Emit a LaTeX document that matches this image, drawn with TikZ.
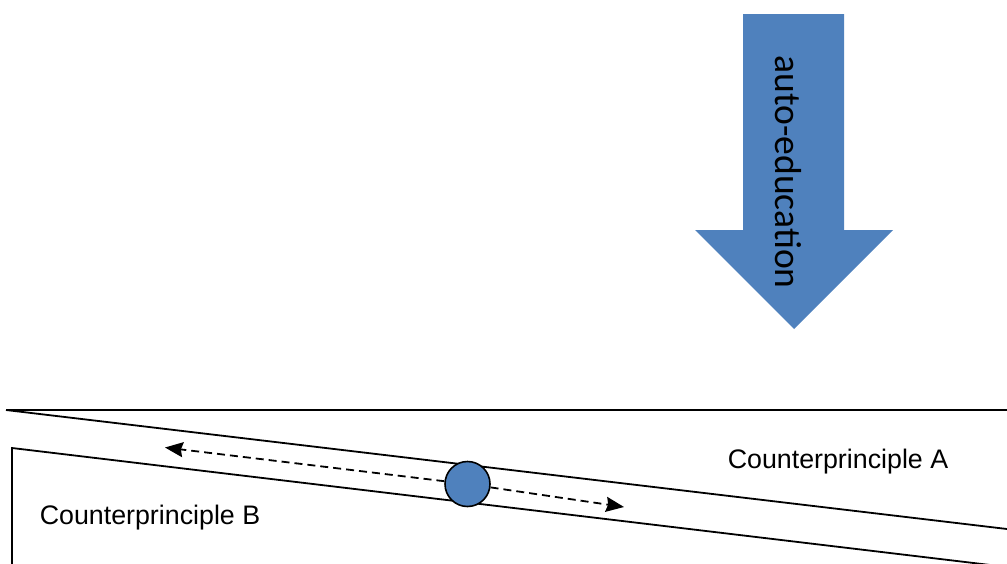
\documentclass[tikz,border=0pt]{standalone}
\usepackage{fontspec}
\setmainfont{Liberation Sans}
\newfontfamily\calibfont{Carlito}
\usetikzlibrary{arrows.meta}
\definecolor{officeblue}{HTML}{4F81BD}
\begin{document}
\begin{tikzpicture}[x=1pt,y=-1pt,
  plane/.style={line width=1.8pt,black},
  motion/.style={line width=1.8pt,dash pattern=on 8pt off 5pt,-{Stealth[length=18pt,width=15pt,inset=2pt]}},
  label/.style={font=\fontsize{26.8}{32}\selectfont,inner sep=0pt}]
\useasboundingbox (0,0) rectangle (1007,563);
\clip (0,0) rectangle (1007,563);
% big downward arrow
\fill[officeblue] (743,14) -- (844,14) -- (844,230) -- (893,230) -- (794,329) -- (695,230) -- (743,230) -- cycle;
\node[rotate=-90,inner sep=0pt,font=\calibfont\fontsize{37.6}{44}\selectfont] (autoedu) at (788,172) {auto-education};
% planes
\coordinate (tl) at (6,410);
\coordinate (tr) at (1007,410);
\coordinate (sr) at (1007,529);
\coordinate (bl) at (12,448);
\coordinate (br) at (1007,567);
\coordinate (bb) at (12,575);
\draw[plane] (tl) -- (tr);
\draw[plane] (tl) -- (sr);
\draw[plane] (bb) -- (bl) -- (br);
% ball and motion arrows
\node[circle,draw,line width=1.6pt,fill=officeblue,minimum size=45pt,inner sep=0pt] (ball) at (467.5,484) {};
\coordinate (lefttip) at (165,447.5);
\coordinate (righttip) at (624,507);
\draw[motion] (ball) -- (lefttip);
\draw[motion] (ball) -- (righttip);
% labels
\node[label] (cpa) at (838,462) {Counterprinciple A};
\node[label] (cpb) at (150,518) {Counterprinciple B};
\end{tikzpicture}
\end{document}
